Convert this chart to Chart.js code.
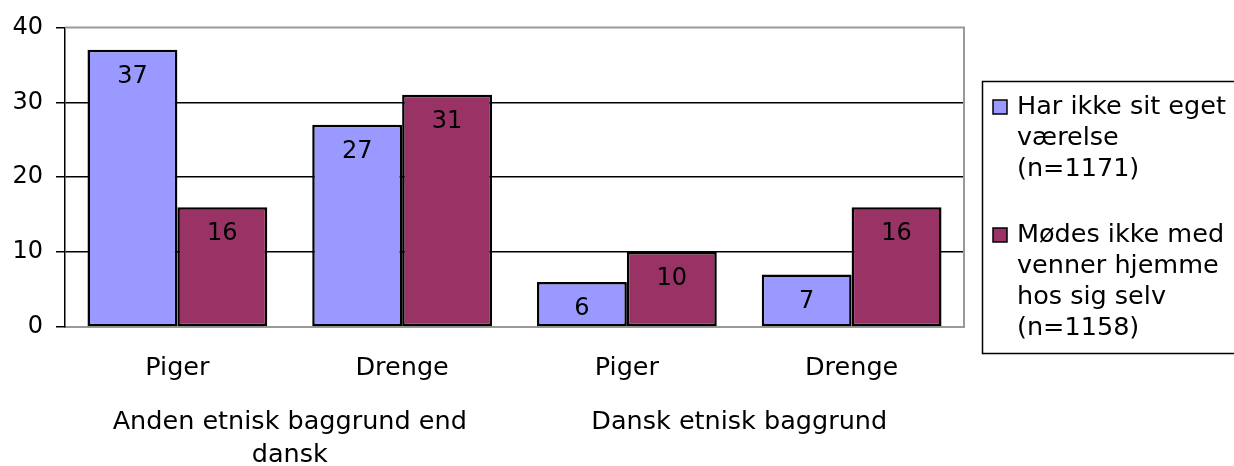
<!DOCTYPE html>
<html>
<head>
<meta charset="utf-8">
<script src="https://cdn.jsdelivr.net/npm/chart.js@4"></script>
<style>
  html, body { margin: 0; padding: 0; background: #fff; }
  #wrap { width: 1234px; height: 466px; }
</style>
</head>
<body>
<div id="wrap"><canvas id="myChart" width="1234" height="466"></canvas></div>
<script>
var categorias = ['Piger', 'Drenge', 'Piger', 'Drenge'];
var grupos = [
    { linhas: ['Anden etnisk baggrund end', 'dansk'], de: 0, ate: 1 },
    { linhas: ['Dansk etnisk baggrund'], de: 2, ate: 3 }
];
var serieNavne = [
    ['Har ikke sit eget', 'værelse', '(n=1171)'],
    ['Mødes ikke med', 'venner hjemme', 'hos sig selv', '(n=1158)']
];
var egetVaerelse = [37, 27, 6, 7];
var venner = [16, 31, 10, 16];
var yTicks = [0, 10, 20, 30, 40];

var fonte = '"DejaVu Sans", Verdana, sans-serif';
var cores = ['#9999FF', '#993366'];

// rammen rundt om plotområdet (grå top/højre)
var ramme = {
    id: 'ramme',
    beforeDatasetsDraw(chart) {
        var a = chart.chartArea;
        var ctx = chart.ctx;
        ctx.save();
        ctx.strokeStyle = '#999999';
        ctx.lineWidth = 2;
        ctx.beginPath();
        ctx.moveTo(a.left, a.top);
        ctx.lineTo(a.right, a.top);
        ctx.lineTo(a.right, a.bottom);
        ctx.stroke();
        ctx.restore();
    }
};

// tal inde i søjlerne
var etiketter = {
    id: 'etiketter',
    afterDatasetsDraw(chart) {
        var ctx = chart.ctx;
        ctx.save();
        ctx.font = '24px ' + fonte;
        ctx.fillStyle = '#000';
        ctx.textAlign = 'center';
        ctx.textBaseline = 'middle';
        chart.data.datasets.forEach(function (ds, i) {
            chart.getDatasetMeta(i).data.forEach(function (bar, j) {
                ctx.fillText(String(ds.data[j]), bar.x, bar.y + 27);
            });
        });
        ctx.restore();
    }
};

// gruppe-navne under kategorierne
var gruppeNavne = {
    id: 'gruppeNavne',
    afterDraw(chart) {
        var x = chart.scales.x;
        var ctx = chart.ctx;
        ctx.save();
        ctx.font = '25.5px ' + fonte;
        ctx.fillStyle = '#000';
        ctx.textAlign = 'center';
        ctx.textBaseline = 'alphabetic';
        grupos.forEach(function (g) {
            var cx = (x.getPixelForValue(g.de) + x.getPixelForValue(g.ate)) / 2;
            g.linhas.forEach(function (t, k) {
                ctx.fillText(t, cx, 429 + k * 33);
            });
        });
        ctx.restore();
    }
};

// egen forklaring med boks
var forklaring = {
    id: 'forklaring',
    afterDraw(chart) {
        var ctx = chart.ctx;
        ctx.save();
        ctx.strokeStyle = '#000';
        ctx.lineWidth = 1.5;
        ctx.strokeRect(982.5, 81.5, 270, 272);
        ctx.font = '25.5px ' + fonte;
        ctx.textAlign = 'left';
        ctx.textBaseline = 'alphabetic';
        var base = 114;
        serieNavne.forEach(function (linhas, i) {
            ctx.fillStyle = cores[i];
            ctx.fillRect(993, base - 14, 14, 14);
            ctx.strokeStyle = '#000';
            ctx.lineWidth = 1.5;
            ctx.strokeRect(993, base - 14, 14, 14);
            ctx.fillStyle = '#000';
            linhas.forEach(function (t, k) {
                ctx.fillText(t, 1017, base + k * 31);
            });
            base += linhas.length * 31 + 35;
        });
        ctx.restore();
    }
};

var ctx = document.getElementById('myChart');
var myChart = new Chart(ctx, {
    type: 'bar',
    data: {
        labels: categorias,
        datasets: [{
            label: serieNavne[0].join(' '),
            data: egetVaerelse,
            backgroundColor: cores[0],
            borderColor: '#000',
            borderWidth: 2.5,
            borderSkipped: false
        }, {
            label: serieNavne[1].join(' '),
            data: venner,
            backgroundColor: cores[1],
            borderColor: '#000',
            borderWidth: 2.5,
            borderSkipped: false
        }]
    },
    options: {
        responsive: false,
        animation: false,
        layout: { padding: { top: 23, right: 270, left: 0, bottom: 0 } },
        datasets: { bar: { categoryPercentage: 0.8, barPercentage: 1.0 } },
        plugins: {
            legend: { display: false },
            tooltip: { enabled: false }
        },
        scales: {
            x: {
                grid: { display: false, drawTicks: false },
                border: { color: '#999999', width: 2 },
                ticks: { color: '#000', font: { family: fonte, size: 25.5 }, padding: 26, maxRotation: 0 },
                afterFit: function (s) { s.height = 139; }
            },
            y: {
                min: 0,
                max: 40,
                afterBuildTicks: function (s) { s.ticks = yTicks.map(function (v) { return { value: v }; }); },
                grid: {
                    color: function (c) { return (c.tick.value === 0 || c.tick.value === 40) ? 'rgba(0,0,0,0)' : '#000'; },
                    lineWidth: 1.5,
                    tickLength: 9,
                    tickColor: '#000'
                },
                border: { color: '#000', width: 1.5 },
                ticks: { color: '#000', font: { family: fonte, size: 24 }, padding: 13 },
                afterFit: function (s) { s.width = 65; }
            }
        }
    },
    plugins: [ramme, etiketter, gruppeNavne, forklaring]
});
</script>
</body>
</html>
